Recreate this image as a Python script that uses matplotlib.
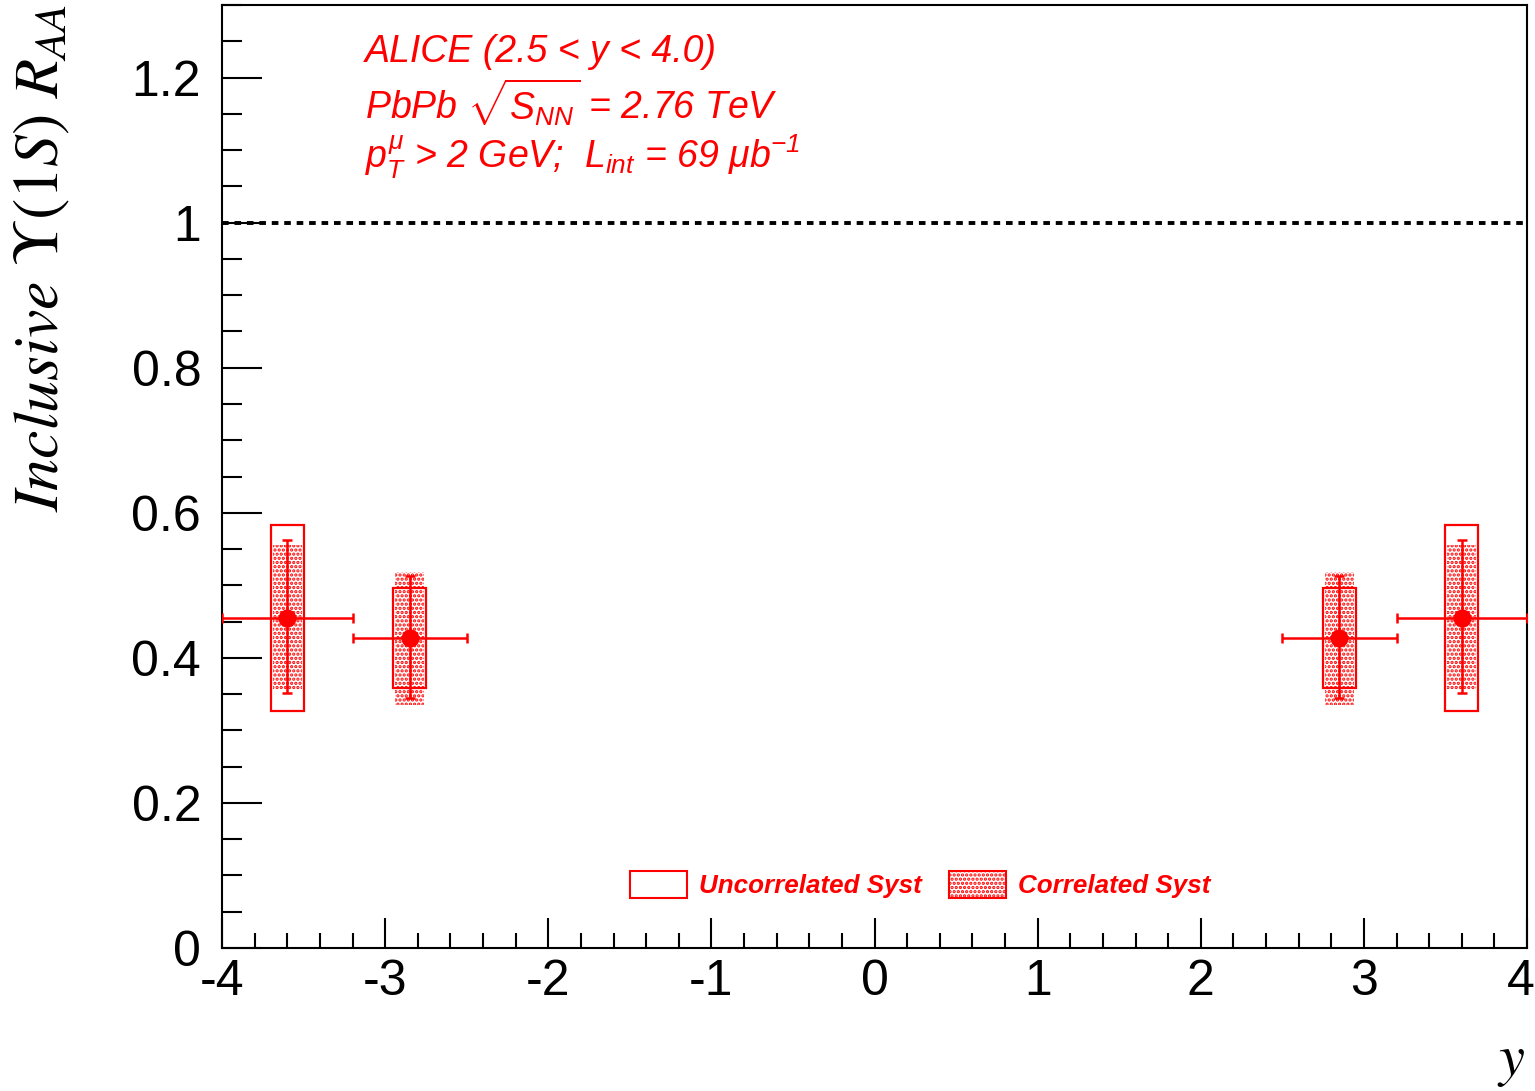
import matplotlib
matplotlib.use("Agg")
import matplotlib.pyplot as plt
from matplotlib.patches import Patch
from matplotlib.ticker import MultipleLocator, FuncFormatter
from matplotlib.transforms import ScaledTranslation
import numpy as np

# ---- data ----
y_center = [-3.6, -2.85, 2.85, 3.6]
y_low = [-4.0, -3.2, 2.5, 3.2]
y_high = [-3.2, -2.5, 3.2, 4.0]
raa = [0.455, 0.427, 0.427, 0.455]
stat_lo = [0.104, 0.082, 0.082, 0.104]
stat_hi = [0.107, 0.086, 0.086, 0.107]
syst_uncorr = [0.128, 0.069, 0.069, 0.128]
syst_corr = [0.100, 0.092, 0.092, 0.100]
legend_labels = ["Uncorrelated Syst", "Correlated Syst"]
xticks = [-4, -3, -2, -1, 0, 1, 2, 3, 4]
yticks = [0, 0.2, 0.4, 0.6, 0.8, 1.0, 1.2]

plt.rcParams['mathtext.fontset'] = 'custom'
plt.rcParams['mathtext.rm'] = 'Liberation Sans:italic'
plt.rcParams['mathtext.it'] = 'Liberation Sans:italic'
plt.rcParams['mathtext.sf'] = 'Liberation Sans:italic'
plt.rcParams['font.family'] = ['Liberation Sans', 'DejaVu Sans']
plt.rcParams['hatch.linewidth'] = 1.6

fig = plt.figure(figsize=(15.35, 10.91), dpi=100)
ax = fig.add_axes([222/1535, 1 - 948/1091, (1527-222)/1535, (948-5)/1091])

x = np.array(y_center)
v = np.array(raa)
red = '#ff0000'

# correlated systematics (dotted fill)
ax.bar(x, 2*np.array(syst_corr), bottom=v-np.array(syst_corr), width=0.18,
       color='none', edgecolor=red, hatch='....', linewidth=0, zorder=2)
# uncorrelated systematics (open boxes)
ax.bar(x, 2*np.array(syst_uncorr), bottom=v-np.array(syst_uncorr), width=0.2,
       fill=False, edgecolor=red, linewidth=1.6, zorder=3)
# points with stat errors
xerr = [x - np.array(y_low), np.array(y_high) - x]
yerr = [np.array(stat_lo), np.array(stat_hi)]
ax.errorbar(x, v, xerr=xerr, yerr=yerr, fmt='o', color=red, ms=12,
            elinewidth=1.8, capsize=3.3, capthick=1.8, zorder=4)

ax.axhline(1.0, color='black', lw=2.8, linestyle=(0, (1.7, 1.5)), zorder=1)

ax.set_xlim(-4, 4)
ax.set_ylim(0, 1.3)
ax.set_xticks(xticks)
ax.set_yticks(yticks)
ax.xaxis.set_minor_locator(MultipleLocator(0.2))
ax.yaxis.set_minor_locator(MultipleLocator(0.05))
fmt = FuncFormatter(lambda val, pos: '%g' % val)
ax.xaxis.set_major_formatter(fmt)
ax.yaxis.set_major_formatter(fmt)
ax.tick_params(axis='both', which='both', direction='in', width=1.5,
               top=False, right=False, labelsize=36)
ax.tick_params(axis='x', which='major', length=21.6, pad=8)
ax.tick_params(axis='x', which='minor', length=10.8)
ax.tick_params(axis='y', which='major', length=28.8, pad=15)
ax.tick_params(axis='y', which='minor', length=14.4)
for s in ax.spines.values():
    s.set_linewidth(1.5)

fig.canvas.draw()
last = ax.get_xticklabels()[-1]
last.set_transform(last.get_transform() + ScaledTranslation(-6/100, 0, fig.dpi_scale_trans))

# annotation text
tkw = dict(transform=ax.transAxes, color=red, fontsize=27, style='italic',
           family='Liberation Sans', ha='left', va='baseline')
ax.text(0.1096, 0.9396, "ALICE (2.5 < y < 4.0)", **tkw)
ax.text(0.1096, 0.878, r"PbPb $\sqrt{S_{NN}}$ = 2.76 TeV", **tkw)
ax.text(0.1096, 0.827, r"$p_{T}^{\mu}$ > 2 GeV;  $L_{int}$ = 69 μb$^{-1}$", **tkw)

# legend
handles = [Patch(facecolor='none', edgecolor=red, linewidth=1.5),
           Patch(facecolor='none', edgecolor=red, hatch='....', linewidth=1.5)]
ax.legend(handles, legend_labels, ncol=2, frameon=False, loc='center',
          bbox_to_anchor=(0.535, 0.067), borderpad=0, handlelength=2.2,
          handleheight=1.2, handletextpad=0.45, columnspacing=1.05,
          labelcolor=red,
          prop=dict(family='Liberation Sans', style='italic', weight='bold', size=18.7))

# axis titles
fig.text(12/1535, 1 - 4/1091, r"$\mathit{Inclusive}\ \Upsilon(\mathit{1S})\ \mathit{R}_{\mathit{AA}}$",
         rotation=90, ha='left', va='top', fontsize=46, math_fontfamily='stix')
fig.text(1525/1535, 1 - 1075/1091, r"$\mathit{y}$", ha='right', va='baseline',
         fontsize=42, math_fontfamily='stix')

fig.savefig('out.png', dpi=100)
